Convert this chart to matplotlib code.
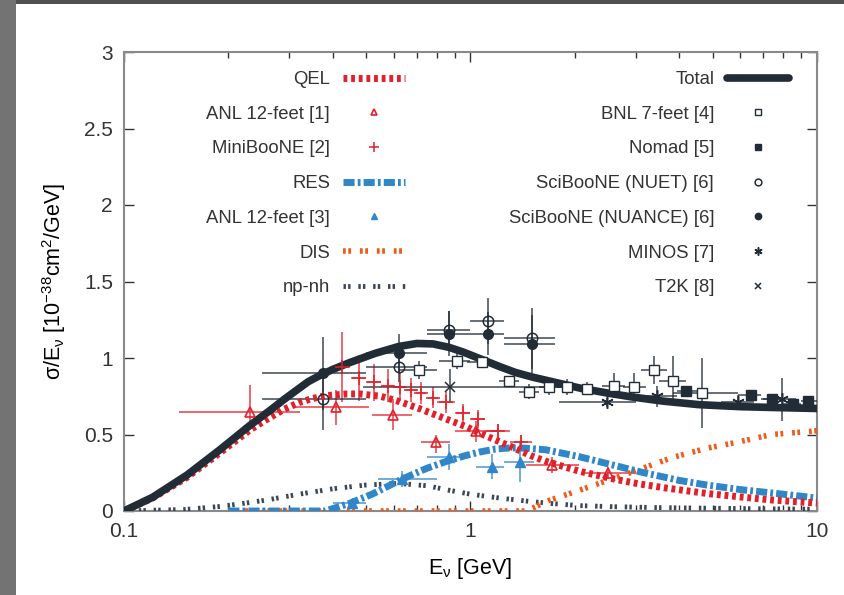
import numpy as np
import matplotlib
matplotlib.use("Agg")
import matplotlib.pyplot as plt
from matplotlib.patches import Rectangle
from matplotlib.ticker import NullFormatter

plt.rcParams['font.family'] = ['Liberation Sans', 'DejaVu Sans']
plt.rcParams['text.color'] = '#333333'

# ---- model curves ----
tot_e = [0.1, 0.121, 0.152, 0.189, 0.231, 0.263, 0.29, 0.315, 0.34, 0.367, 0.40, 0.448, 0.53,
         0.62, 0.70, 0.78, 0.866, 0.95, 1.08, 1.21, 1.35, 1.51, 1.8, 2.1, 2.5, 2.93, 3.6,
         4.57, 6.0, 8.0, 10]
tot_y = [0, 0.09, 0.235, 0.40, 0.56, 0.655, 0.73, 0.79, 0.845, 0.885, 0.925, 0.97, 1.03,
         1.075, 1.095, 1.092, 1.07, 1.04, 0.99, 0.945, 0.905, 0.875, 0.835, 0.80, 0.77,
         0.745, 0.718, 0.695, 0.682, 0.675, 0.67]

qel_e = [0.1, 0.121, 0.152, 0.189, 0.231, 0.263, 0.29, 0.321, 0.35, 0.38, 0.44, 0.48, 0.55,
         0.624, 0.72, 0.853, 0.974, 1.06, 1.31, 1.5, 1.65, 2.06, 2.58, 3.05, 3.67, 4.8,
         6.0, 7.4, 10]
qel_y = [0, 0.085, 0.22, 0.38, 0.53, 0.61, 0.665, 0.71, 0.735, 0.753, 0.765, 0.765, 0.75,
         0.715, 0.665, 0.60, 0.55, 0.51, 0.42, 0.36, 0.325, 0.26, 0.21, 0.178, 0.15, 0.115,
         0.092, 0.072, 0.052]

res_e = [0.2, 0.3, 0.38, 0.40, 0.448, 0.52, 0.57, 0.624, 0.69, 0.75, 0.866, 0.96, 1.06, 1.18,
         1.31, 1.45, 1.65, 2.06, 2.58, 3.1, 4.0, 4.8, 6.0, 7.4, 10]
res_y = [0, 0, 0, 0.015, 0.05, 0.11, 0.155, 0.20, 0.245, 0.28, 0.33, 0.36, 0.385, 0.405,
         0.413, 0.41, 0.40, 0.355, 0.30, 0.255, 0.20, 0.17, 0.14, 0.118, 0.085]

dis_e = [0.2, 0.6, 1.0, 1.45, 1.69, 2.0, 2.35, 2.93, 3.83, 4.8, 5.9, 7.4, 9.5, 10]
dis_y = [0, 0, 0, 0, 0.07, 0.125, 0.18, 0.255, 0.35, 0.41, 0.45, 0.50, 0.52, 0.525]

npnh_e = [0.1, 0.15, 0.19, 0.23, 0.263, 0.32, 0.4, 0.5, 0.62, 0.75, 0.87, 1.0, 1.21, 1.45,
          1.69, 2.06, 2.6, 3.5, 5, 7, 10]
npnh_y = [0, 0.01, 0.03, 0.055, 0.075, 0.11, 0.145, 0.17, 0.18, 0.165, 0.135, 0.11, 0.085,
          0.065, 0.05, 0.035, 0.028, 0.022, 0.018, 0.014, 0.012]

# ---- data points ----
anl1_e = [0.231, 0.41, 0.596, 0.797, 1.04, 1.72, 2.5]
anl1_y = [0.65, 0.68, 0.63, 0.45, 0.52, 0.30, 0.25]
anl1_xlo = [0.144, 0.307, 0.52, 0.72, 0.90, 1.45, 2.08]
anl1_xhi = [0.321, 0.51, 0.68, 0.87, 1.21, 2.06, 3.0]
anl1_ylo = [0.075, 0.12, 0.10, 0.07, 0.07, 0.05, 0.04]
anl1_yhi = [0.175, 0.11, 0.10, 0.05, 0.07, 0.05, 0.04]

mb_e = [0.425, 0.476, 0.525, 0.577, 0.624, 0.675, 0.72, 0.78, 0.85, 0.95, 1.05, 1.2, 1.4]
mb_y = [0.94, 0.87, 0.84, 0.82, 0.81, 0.79, 0.77, 0.74, 0.71, 0.64, 0.60, 0.52, 0.45]
mb_xerr = [0.025, 0.025, 0.025, 0.025, 0.025, 0.025, 0.025, 0.025, 0.05, 0.05, 0.05, 0.1, 0.1]
mb_yerr = [0.23, 0.15, 0.12, 0.11, 0.09, 0.08, 0.07, 0.07, 0.07, 0.06, 0.06, 0.05, 0.05]

anl3_e = [0.454, 0.636, 0.866, 1.15, 1.39]
anl3_y = [0.05, 0.21, 0.35, 0.29, 0.32]
anl3_xlo = [0.40, 0.54, 0.75, 1.04, 1.25]
anl3_xhi = [0.50, 0.80, 1.0, 1.25, 1.53]
anl3_yerr = [0.02, 0.05, 0.085, 0.08, 0.13]

bnl_e = [0.71, 0.915, 1.08, 1.29, 1.48, 1.69, 1.9, 2.17, 2.59, 2.96, 3.39, 3.83, 4.65]
bnl_y = [0.92, 0.98, 0.975, 0.85, 0.78, 0.81, 0.81, 0.80, 0.82, 0.81, 0.92, 0.85, 0.77]
bnl_xlo = [0.62, 0.81, 0.98, 1.21, 1.38, 1.58, 1.78, 2.0, 2.4, 2.75, 3.1, 3.5, 3.83]
bnl_xhi = [0.80, 1.0, 1.18, 1.38, 1.58, 1.8, 2.0, 2.35, 2.8, 3.2, 3.7, 4.2, 5.9]
bnl_yerr = [0.06, 0.05, 0.04, 0.03, 0.05, 0.05, 0.05, 0.04, 0.08, 0.09, 0.09, 0.16, 0.23]

nomad_e = [4.2, 6.45, 7.4, 8.5, 9.4]
nomad_y = [0.785, 0.76, 0.73, 0.70, 0.72]
nomad_xlo = [3.95, 5.9, 7.0, 7.9, 9.0]
nomad_xhi = [4.5, 6.9, 7.9, 9.0, 10.0]
nomad_yerr = [0.035, 0.03, 0.03, 0.03, 0.03]

sb_e = [0.374, 0.62, 0.866, 1.12, 1.5]
sb_xlo = [0.25, 0.5, 0.75, 1.0, 1.25]
sb_xhi = [0.5, 0.75, 1.0, 1.25, 1.75]
nuet_y = [0.73, 0.94, 1.185, 1.24, 1.13]
nuet_yerr = [0.2, 0.1, 0.12, 0.15, 0.2]
nuance_y = [0.90, 1.03, 1.16, 1.16, 1.09]
nuance_yerr = [0.24, 0.13, 0.15, 0.14, 0.19]

minos_e = [2.48, 3.46, 5.9, 7.9]
minos_y = [0.71, 0.75, 0.71, 0.73]
minos_xlo = [1.8, 3.05, 5.3, 6.9]
minos_xhi = [3.0, 3.95, 6.6, 8.7]
minos_yerr = [0.03, 0.07, 0.05, 0.14]

t2k_e = [0.87]
t2k_y = [0.81]
t2k_xlo = [0.49]
t2k_xhi = [2.15]
t2k_ylo = [0.10]
t2k_yhi = [0.12]

RED = '#e3202a'
BLUE = '#2f86c8'
ORANGE = '#f25a17'
GRAY = '#3b4754'
DARK = '#222c36'

fig = plt.figure(figsize=(8.44, 5.95), dpi=100)
fig.patch.set_facecolor('#505050')
fig.patches.append(Rectangle((0, 0), 16 / 844, 1, transform=fig.transFigure,
                             facecolor='#737373', edgecolor='none', zorder=-10))
fig.patches.append(Rectangle((16 / 844, 0), 1, 1 - 4 / 595, transform=fig.transFigure,
                             facecolor='white', edgecolor='none', zorder=-9))

ax = fig.add_axes([124 / 844, 1 - 511 / 595, 693 / 844, 459 / 595])
ax.set_zorder(1)
ax.set_xscale('log')
ax.set_xlim(0.1, 10)
ax.set_ylim(0, 3)


def xbars(e, lo, hi):
    e = np.array(e)
    return [e - np.array(lo), np.array(hi) - e]


eb = dict(fmt='none', elinewidth=1.2, capsize=0, alpha=0.8, zorder=3)

# data with error bars
ax.errorbar(anl1_e, anl1_y, xerr=xbars(anl1_e, anl1_xlo, anl1_xhi),
            yerr=[anl1_ylo, anl1_yhi], ecolor=RED, **eb)
ax.errorbar(mb_e, mb_y, xerr=mb_xerr, yerr=mb_yerr, ecolor=RED, **eb)
ax.errorbar(anl3_e, anl3_y, xerr=xbars(anl3_e, anl3_xlo, anl3_xhi), yerr=anl3_yerr,
            ecolor=BLUE, **eb)
ax.errorbar(bnl_e, bnl_y, xerr=xbars(bnl_e, bnl_xlo, bnl_xhi), yerr=bnl_yerr, ecolor=DARK, **eb)
ax.errorbar(nomad_e, nomad_y, xerr=xbars(nomad_e, nomad_xlo, nomad_xhi), yerr=nomad_yerr,
            ecolor=DARK, **eb)
ax.errorbar(sb_e, nuet_y, xerr=xbars(sb_e, sb_xlo, sb_xhi), yerr=nuet_yerr, ecolor=DARK, **eb)
ax.errorbar(sb_e, nuance_y, xerr=xbars(sb_e, sb_xlo, sb_xhi), yerr=nuance_yerr, ecolor=DARK, **eb)
ax.errorbar(minos_e, minos_y, xerr=xbars(minos_e, minos_xlo, minos_xhi), yerr=minos_yerr,
            ecolor=DARK, **eb)
ax.errorbar(t2k_e, t2k_y, xerr=xbars(t2k_e, t2k_xlo, t2k_xhi), yerr=[t2k_ylo, t2k_yhi],
            ecolor=DARK, **eb)

# curves
h_npnh, = ax.plot(npnh_e, npnh_y, color=GRAY, lw=3.5, dashes=(0.5, 0.45, 0.5, 1.6),
                  dash_capstyle='butt', label='np-nh', zorder=4)
h_dis, = ax.plot(dis_e, dis_y, color=ORANGE, lw=4, dashes=(0.5, 0.45, 0.5, 1.6),
                 dash_capstyle='butt', label='DIS', zorder=4)
h_res, = ax.plot(res_e, res_y, color=BLUE, lw=5, dashes=(1.6, 0.45, 0.4, 0.45),
                 dash_capstyle='butt', label='RES', zorder=4)
h_qel, = ax.plot(qel_e, qel_y, color=RED, lw=5, dashes=(0.55, 0.55),
                 dash_capstyle='butt', label='QEL', zorder=4)
h_tot, = ax.plot(tot_e, tot_y, color=DARK, lw=5.5, solid_capstyle='round',
                 solid_joinstyle='round', label='Total', zorder=5)

# markers
mk = dict(ls='none', zorder=6)
h_anl1, = ax.plot(anl1_e, anl1_y, marker='^', ms=7.5, mfc='none', mec=RED, mew=1.2,
                  label='ANL 12-feet [1]', **mk)
h_mb, = ax.plot(mb_e, mb_y, marker='+', ms=10, mec=RED, mew=1.1, label='MiniBooNE [2]', **mk)
h_anl3, = ax.plot(anl3_e, anl3_y, marker='^', ms=7, color=BLUE, label='ANL 12-feet [3]', **mk)
h_bnl, = ax.plot(bnl_e, bnl_y, marker='s', ms=7, mfc='white', mec=DARK, mew=1.0,
                 label='BNL 7-feet [4]', **mk)
h_nomad, = ax.plot(nomad_e, nomad_y, marker='s', ms=7.5, color=DARK, label='Nomad [5]', **mk)
h_nuet, = ax.plot(sb_e, nuet_y, marker='o', ms=7.5, mfc='none', mec=DARK, mew=1.1,
                  label='SciBooNE (NUET) [6]', **mk)
h_nuance, = ax.plot(sb_e, nuance_y, marker='o', ms=7, color=DARK,
                    label='SciBooNE (NUANCE) [6]', **mk)
h_minos, = ax.plot(minos_e, minos_y, marker=(6, 2, 0), ms=9, mec=DARK, mew=1.1,
                   label='MINOS [7]', **mk)
h_t2k, = ax.plot(t2k_e, t2k_y, marker='x', ms=7, mec=DARK, mew=1.1, label='T2K [8]', **mk)

leg_kw = dict(frameon=False, markerfirst=False, fontsize=13.3, borderpad=0, borderaxespad=0,
              handlelength=3.35, handletextpad=0.7, labelspacing=0.96, markerscale=0.65,
              numpoints=1, loc='upper right')
leg1 = ax.legend(handles=[h_qel, h_anl1, h_mb, h_res, h_anl3, h_dis, h_npnh],
                 bbox_to_anchor=((405 - 124) / 693, (511 - 71) / 459), **leg_kw)
ax.add_artist(leg1)
ax.legend(handles=[h_tot, h_bnl, h_nomad, h_nuet, h_nuance, h_minos, h_t2k],
          bbox_to_anchor=((789 - 124) / 693, (511 - 71) / 459), **leg_kw)

ax.set_xticks([0.1, 1, 10], ['0.1', '1', '10'])
ax.xaxis.set_minor_formatter(NullFormatter())
ax.set_yticks([0, 0.5, 1, 1.5, 2, 2.5, 3], ['0', '0.5', '1', '1.5', '2', '2.5', '3'])
ax.tick_params(which='both', direction='in', top=True, right=True, labelsize=15,
               colors='#333333', width=1)
ax.tick_params(which='major', length=7, pad=8)
ax.tick_params(which='minor', length=4)
for s in ax.spines.values():
    s.set_color('#8a8a8a')
    s.set_linewidth(1.5)

ax.set_xlabel(r'E$_\mathregular{\nu}$ [GeV]', fontsize=15.5, labelpad=11)
ax.set_ylabel(r'σ/E$_\mathregular{\nu}$ [10$^\mathregular{-38}$cm$^\mathregular{2}$/GeV]',
              fontsize=15.5, labelpad=11)

fig.savefig('out.png', dpi=100, facecolor=fig.get_facecolor())
